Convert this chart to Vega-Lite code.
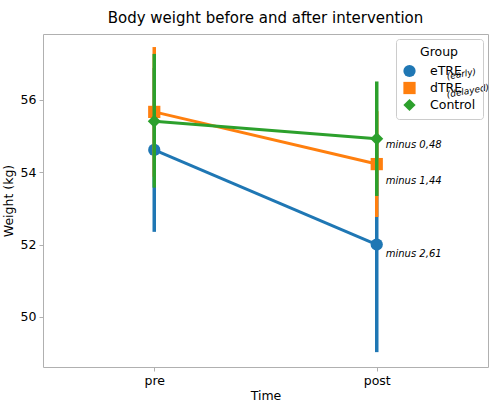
{
  "$schema": "https://vega.github.io/schema/vega-lite/v6.json",
  "width": 445,
  "height": 333,
  "autosize": {"type": "none"},
  "padding": {"top": 34, "left": 43, "right": 2, "bottom": 52},
  "title": {"text": "Body weight before and after intervention", "font": "DejaVu Sans", "fontSize": 15, "fontWeight": "normal", "color": "#000", "anchor": "middle", "offset": 8},
  "config": {
    "view": {"stroke": "#b0b0b0", "strokeWidth": 1},
    "axis": {"grid": false, "domain": false, "labelFont": "DejaVu Sans", "titleFont": "DejaVu Sans", "labelFontSize": 12.5, "titleFontSize": 12.5, "titleFontWeight": "normal", "labelColor": "#000", "titleColor": "#000", "tickColor": "#b0b0b0", "tickSize": 4}
  },
  "datasets": {
    "stats": [
      {"group": "eTRE", "time": "pre", "mean": 54.61, "lo": 52.35, "hi": 56.87},
      {"group": "eTRE", "time": "post", "mean": 52.0, "lo": 49.03, "hi": 54.97},
      {"group": "dTRE", "time": "pre", "mean": 55.66, "lo": 53.87, "hi": 57.45},
      {"group": "dTRE", "time": "post", "mean": 54.22, "lo": 52.76, "hi": 55.68},
      {"group": "Control", "time": "pre", "mean": 55.40, "lo": 53.57, "hi": 57.26},
      {"group": "Control", "time": "post", "mean": 54.92, "lo": 53.34, "hi": 56.50}
    ],
    "notes": [
      {"label": "minus 0,48", "time": "post", "y": 54.75, "off": 12},
      {"label": "minus 1,44", "time": "post", "y": 53.75, "off": 8},
      {"label": "minus 2,61", "time": "post", "y": 51.74, "off": 8}
    ],
    "legnotes": [
      {"label": "(early)", "time": "post", "y": 56.63},
      {"label": "(delayed)", "time": "post", "y": 56.13}
    ]
  },
  "encoding": {
    "x": {"field": "time", "type": "nominal", "scale": {"type": "point", "domain": ["pre", "post"], "padding": 0.5}, "axis": {"title": "Time", "labelAngle": 0, "labelPadding": 3, "titlePadding": 3}}
  },
  "layer": [
    {
      "data": {"name": "stats"},
      "transform": [{"filter": "datum.group === 'eTRE'"}],
      "layer": [
        {"mark": {"type": "rule", "strokeWidth": 3.5, "color": "#1f77b4"}, "encoding": {"y": {"field": "lo", "type": "quantitative"}, "y2": {"field": "hi"}}},
        {"mark": {"type": "line", "strokeWidth": 3, "color": "#1f77b4"}, "encoding": {"y": {"field": "mean", "type": "quantitative"}}}
      ]
    },
    {
      "data": {"name": "stats"},
      "transform": [{"filter": "datum.group === 'eTRE'"}],
      "mark": {"type": "point", "filled": true, "opacity": 1, "size": 150},
      "encoding": {
        "y": {"field": "mean", "type": "quantitative"},
        "color": {"field": "group", "type": "nominal"},
        "shape": {"field": "group", "type": "nominal"}
      }
    },
    {
      "data": {"name": "stats"},
      "transform": [{"filter": "datum.group === 'dTRE'"}],
      "layer": [
        {"mark": {"type": "rule", "strokeWidth": 3.5, "color": "#ff7f0e"}, "encoding": {"y": {"field": "lo", "type": "quantitative"}, "y2": {"field": "hi"}}},
        {"mark": {"type": "line", "strokeWidth": 3, "color": "#ff7f0e"}, "encoding": {"y": {"field": "mean", "type": "quantitative"}}}
      ]
    },
    {
      "data": {"name": "stats"},
      "transform": [{"filter": "datum.group === 'dTRE'"}],
      "mark": {"type": "point", "filled": true, "opacity": 1, "size": 150},
      "encoding": {
        "y": {"field": "mean", "type": "quantitative"},
        "color": {"field": "group", "type": "nominal"},
        "shape": {"field": "group", "type": "nominal"}
      }
    },
    {
      "data": {"name": "stats"},
      "transform": [{"filter": "datum.group === 'Control'"}],
      "layer": [
        {"mark": {"type": "rule", "strokeWidth": 3.5, "color": "#2ca02c"}, "encoding": {"y": {"field": "lo", "type": "quantitative"}, "y2": {"field": "hi"}}},
        {"mark": {"type": "line", "strokeWidth": 3, "color": "#2ca02c"}, "encoding": {"y": {"field": "mean", "type": "quantitative"}}}
      ]
    },
    {
      "data": {"name": "stats"},
      "transform": [{"filter": "datum.group === 'Control'"}],
      "mark": {"type": "point", "filled": true, "opacity": 1, "size": 170},
      "encoding": {
        "y": {"field": "mean", "type": "quantitative", "scale": {"domain": [48.62, 57.81], "nice": false, "zero": false}, "axis": {"title": "Weight (kg)", "values": [50, 52, 54, 56], "labelPadding": 3, "titlePadding": 5}},
        "color": {"field": "group", "type": "nominal", "scale": {"domain": ["eTRE", "dTRE", "Control"], "range": ["#1f77b4", "#ff7f0e", "#2ca02c"]},
          "legend": {"title": "Group", "orient": "top-right", "offset": 5, "titleAnchor": "middle", "titleFont": "DejaVu Sans", "titleFontSize": 12.5, "titleFontWeight": "normal", "titleColor": "#000", "titlePadding": 6, "labelFont": "DejaVu Sans", "labelFontSize": 12.5, "labelColor": "#000", "symbolSize": 150, "symbolStrokeWidth": 0, "rowPadding": 4, "padding": 7, "strokeColor": "#cccccc", "cornerRadius": 3, "labelOffset": 14, "symbolOpacity": 1}},
        "shape": {"field": "group", "type": "nominal", "scale": {"domain": ["eTRE", "dTRE", "Control"], "range": ["circle", "square", "diamond"]}}
      }
    },
    {
      "data": {"name": "notes"},
      "mark": {"type": "text", "align": "left", "baseline": "middle", "dx": 9, "font": "DejaVu Sans", "fontStyle": "italic", "fontSize": 10, "color": "#000"},
      "encoding": {"y": {"field": "y", "type": "quantitative"}, "text": {"field": "label"}}
    },
    {
      "data": {"name": "legnotes"},
      "mark": {"type": "text", "align": "left", "baseline": "middle", "dx": 69, "dy": 12, "angle": 350, "font": "DejaVu Sans", "fontStyle": "italic", "fontSize": 9, "color": "#000"},
      "encoding": {"y": {"field": "y", "type": "quantitative"}, "text": {"field": "label"}}
    }
  ]
}
